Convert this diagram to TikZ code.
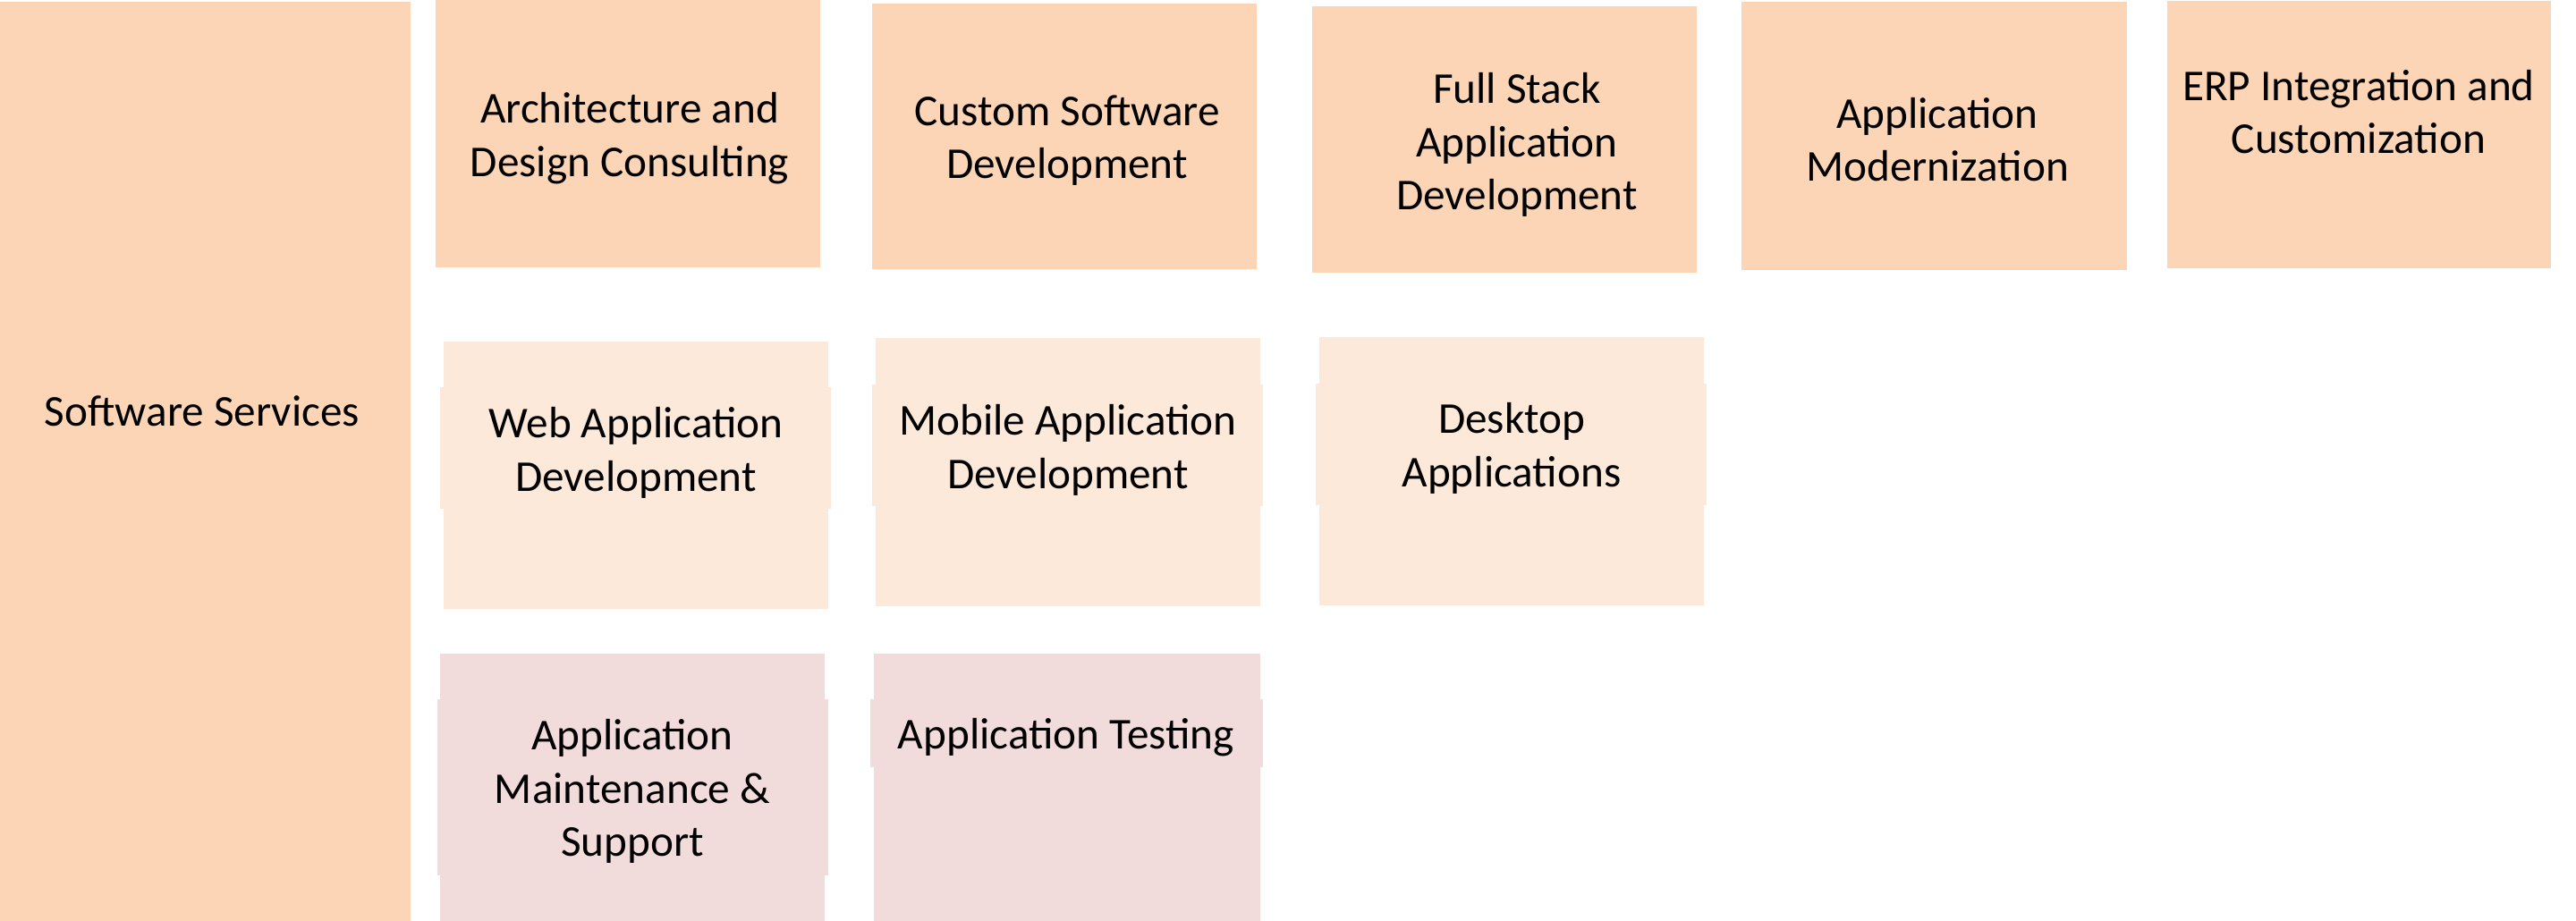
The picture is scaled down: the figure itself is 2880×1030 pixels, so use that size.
\documentclass[tikz,border=0pt]{standalone}
\usepackage{fontspec}
\setmainfont{Carlito}
\definecolor{peach}{HTML}{FBD5B5}
\definecolor{light}{HTML}{FDE9D9}
\definecolor{rose}{HTML}{F2DCDB}
\tikzset{
  card/.style={fill=#1, draw=none},
  lbl/.style={align=center, inner sep=0pt, font=\fontsize{14}{17}\selectfont, text=black}
}
\begin{document}
\begin{tikzpicture}[x=0.01cm,y=-0.01cm]
\useasboundingbox (0,0) rectangle (2880,1030);
% row 1
\path[card=peach] (0,2) rectangle (459,1030);
\path[card=peach] (487,0) rectangle (917,299);
\path[card=peach] (975,4) rectangle (1405,301);
\path[card=peach] (1467,7) rectangle (1897,305);
\path[card=peach] (1947,2) rectangle (2378,302);
\path[card=peach] (2423,1) rectangle (2852,300);
% row 2
\path[card=light] (496,382) rectangle (926,681);
\path[card=light] (492,433) rectangle (929,569);
\path[card=light] (979,378) rectangle (1409,678);
\path[card=light] (975,430) rectangle (1412,566);
\path[card=light] (1475,377) rectangle (1905,677);
\path[card=light] (1471,429) rectangle (1908,565);
% row 3
\path[card=rose] (492,731) rectangle (922,1030);
\path[card=rose] (489,782) rectangle (926,979);
\path[card=rose] (977,731) rectangle (1409,1030);
\path[card=rose] (973,782) rectangle (1412,858);
% labels
\node[lbl] (ss) at (226,460) {Software Services};
\node[lbl] (arch) at (704,155) {Architecture and\\Design Consulting};
\node[lbl] (custom) at (1193,157) {Custom Software\\Development};
\node[lbl] (full) at (1696,162) {Full Stack\\Application\\Development};
\node[lbl] (modern) at (2166,156) {Application\\Modernization};
\node[lbl] (erp) at (2637,125) {ERP Integration and\\Customization};
\node[lbl] (web) at (711,506) {Web Application\\Development};
\node[lbl] (mobile) at (1194,503) {Mobile Application\\Development};
\node[lbl] (desk) at (1690,501) {Desktop\\Applications};
\node[lbl] (maint) at (707,885) {Application\\Maintenance \&\\Support};
\node[lbl] (test) at (1192,825) {Application Testing};
\end{tikzpicture}
\end{document}
